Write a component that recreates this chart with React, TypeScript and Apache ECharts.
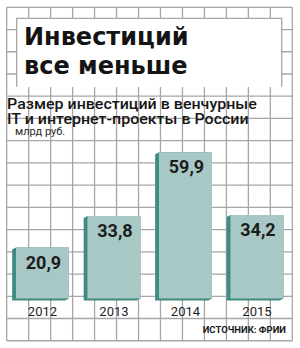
import React, { useEffect, useRef } from "react";
import * as echarts from "echarts";

const years = ["2012", "2013", "2014", "2015"];
const values = [20.9, 33.8, 59.9, 34.2];
const titleLines = ["Инвестиций", "все меньше"];
const subtitleLines = ["Размер инвестиций в венчурные", "IT и интернет-проекты в России"];
const unitText = "млрд руб.";
const sourceText = "ИСТОЧНИК: ФРИИ";

const FRONT = "#a8c8c6";
const SIDE = "#3f8a81";
const GRIDC = "#a6a6a6";

function buildGraphic() {
  const els: any[] = [];
  const x0 = 6.7, y0 = 7.3, dx = 21.97, dy = 22.23;
  const xN = 13, yN = 15;
  for (let k = 0; k <= xN; k++) {
    const x = x0 + dx * k;
    els.push({ type: "line", z: 0, silent: true, shape: { x1: x, y1: y0, x2: x, y2: y0 + dy * yN }, style: { stroke: GRIDC, lineWidth: 1.3 } });
  }
  for (let k = 0; k <= yN; k++) {
    const y = y0 + dy * k;
    els.push({ type: "line", z: 0, silent: true, shape: { x1: x0, y1: y, x2: x0 + dx * xN, y2: y }, style: { stroke: GRIDC, lineWidth: 1.3 } });
  }
  // title box
  els.push({ type: "rect", z: 1, silent: true, shape: { x: 16.7, y: 18.3, width: 265, height: 68.7 }, style: { fill: "#ffffff" } });
  els.push({ type: "polyline", z: 2, silent: true, shape: { points: [[16.7, 86.7], [16.7, 18.3], [281.7, 18.3], [281.7, 86.7]] }, style: { stroke: GRIDC, lineWidth: 1.3, fill: null } });
  els.push({ type: "text", z: 10, x: 24, y: 36.5, style: { text: titleLines[0], x: 0, y: 0, font: "bold 24px 'DejaVu Sans'", fill: "#141414", verticalAlign: "middle" } });
  els.push({ type: "text", z: 10, x: 24, y: 65.5, style: { text: titleLines[1], x: 0, y: 0, font: "bold 24px 'DejaVu Sans'", fill: "#141414", verticalAlign: "middle" } });
  els.push({ type: "text", z: 10, x: 7, y: 104, scaleX: 1.16, style: { text: subtitleLines[0], x: 0, y: 0, font: "500 13.8px Roboto", fill: "#161616", verticalAlign: "middle" } });
  els.push({ type: "text", z: 10, x: 7, y: 119, scaleX: 1.16, style: { text: subtitleLines[1], x: 0, y: 0, font: "500 13.8px Roboto", fill: "#161616", verticalAlign: "middle" } });
  els.push({ type: "text", z: 10, x: 15, y: 131, style: { text: unitText, x: 0, y: 0, font: "11px Roboto", fill: "#2a2a2a", verticalAlign: "middle" } });
  els.push({ type: "text", z: 10, x: 286, y: 329.5, style: { text: sourceText, x: 0, y: 0, font: "bold 9.5px Roboto", fill: "#1a1a1a", align: "right", verticalAlign: "middle" } });
  return els;
}

export default function App() {
  const ref = useRef<HTMLDivElement>(null);
  useEffect(() => {
    if (!ref.current) return;
    const chart = echarts.init(ref.current, null, { renderer: "svg" });
    chart.setOption({
      animation: false,
      backgroundColor: "#ffffff",
      grid: { left: 6.7, width: 286, top: 103.3, height: 195.2, containLabel: false },
      xAxis: {
        type: "category",
        data: years,
        axisLine: { show: false },
        axisTick: { show: false },
        axisLabel: { margin: 6, fontFamily: "Roboto", fontSize: 13, color: "#1e1e1e" },
        splitLine: { show: false },
      },
      yAxis: { type: "value", min: 0, max: 80, show: false },
      graphic: buildGraphic(),
      series: [
        {
          type: "custom",
          z: 5,
          data: values.map((v, i) => [i, v]),
          renderItem: (params: any, api: any) => {
            const i = api.value(0);
            const v = api.value(1);
            const top = api.coord([i, v]);
            const base = api.coord([i, 0]);
            const w = 53;
            const xa = top[0] - w / 2;
            const xb = top[0] + w / 2;
            const ya = top[1];
            const yb = base[1];
            const d = 3.8, e = 2;
            return {
              type: "group",
              children: [
                {
                  type: "polygon",
                  shape: { points: [[xa, ya], [xb, ya], [xb, yb], [xb - d, yb + e], [xa - d, yb + e], [xa - d, ya + e]] },
                  style: { fill: SIDE },
                },
                { type: "rect", shape: { x: xa, y: ya, width: w, height: yb - ya }, style: { fill: FRONT } },
                {
                  type: "text",
                  style: {
                    text: v.toFixed(1).replace(".", ","),
                    x: top[0] + 1,
                    y: ya + 14.5,
                    align: "center",
                    verticalAlign: "middle",
                    font: "bold 18px Roboto",
                    fill: "#1c1c1c",
                  },
                },
              ],
            };
          },
        },
      ],
    });
    return () => chart.dispose();
  }, []);
  return <div ref={ref} style={{ position: "fixed", left: 0, top: 0, width: 300, height: 348 }} />;
}
